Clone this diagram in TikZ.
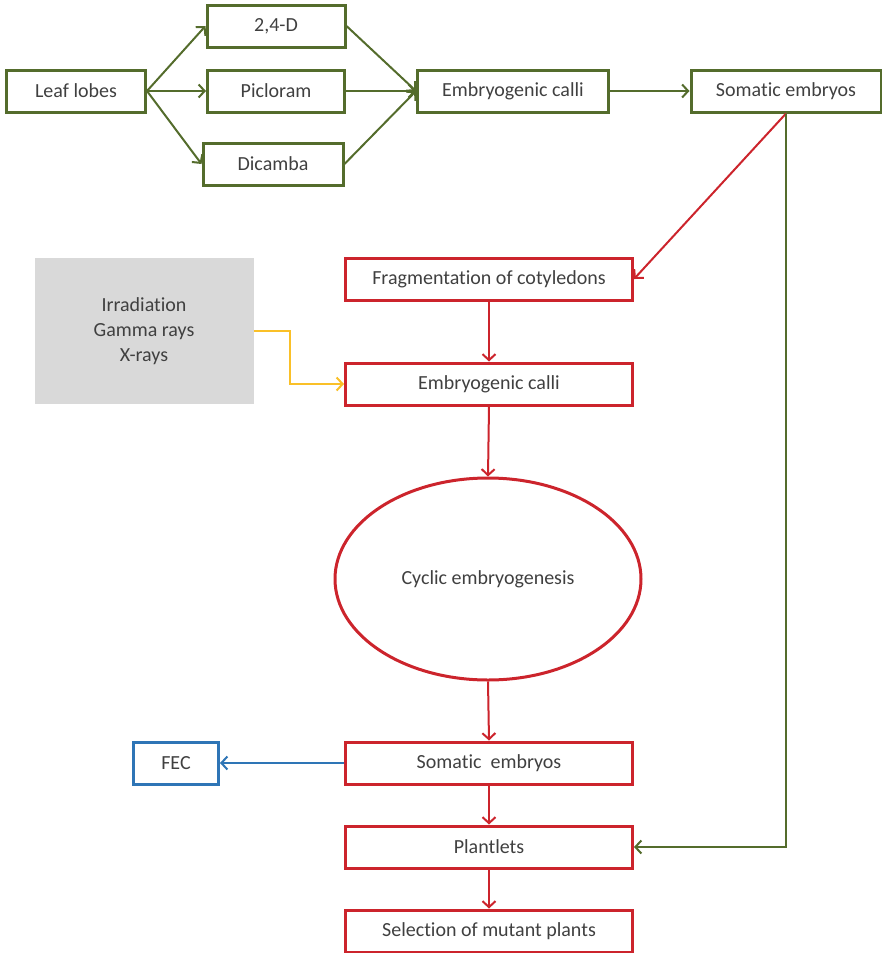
\documentclass[tikz,border=0pt]{standalone}
\usepackage{fontspec}
\setmainfont[Ligatures=NoCommon]{Carlito}
\usepackage{tikz}
\usetikzlibrary{arrows.meta, positioning, shapes.geometric}

\definecolor{olivegreen}{RGB}{84,108,44}
\definecolor{boxred}{RGB}{204,36,44}
\definecolor{boxblue}{RGB}{46,117,182}
\definecolor{raygold}{RGB}{250,192,40}
\definecolor{raygray}{RGB}{217,217,217}
\definecolor{textgray}{RGB}{64,64,64}

\begin{document}
\begin{tikzpicture}[x=1pt, y=-1pt,
  font=\fontsize{20}{25}\selectfont, text=textgray,
  gbox/.style={draw=olivegreen, rectangle, line width=3pt, minimum height=42pt, align=center},
  rbox/.style={draw=boxred, rectangle, line width=3pt, minimum height=42pt, minimum width=287pt, align=center},
  garrow/.style={-{Straight Barb[length=6pt, width=13pt]}, olivegreen, line width=2pt},
  rarrow/.style={-{Straight Barb[length=6pt, width=13pt]}, boxred, line width=2pt},
  barrow/.style={-{Straight Barb[length=6pt, width=13pt]}, boxblue, line width=2pt},
  yarrow/.style={-{Straight Barb[length=6pt, width=13pt]}, raygold, line width=2pt}
]
\useasboundingbox (0,0) rectangle (881,953);

% Top row (green)
\node[gbox, minimum width=139pt] (leaf) at (76,91) {Leaf lobes};
\node[gbox, minimum width=138pt] (dform) at (276,26) {2,4-D};
\node[gbox, minimum width=137pt] (piclo) at (276,91) {Picloram};
\node[gbox, minimum width=140pt] (dicam) at (273,164) {Dicamba};
\node[gbox, minimum width=191pt] (calli) at (513,91) {Embryogenic calli};
\node[gbox, minimum width=190pt] (soma) at (786,91) {Somatic embryos};

\draw[garrow] (leaf.east) -- (dform.west);
\draw[garrow] (leaf.east) -- (piclo.west);
\draw[garrow] (leaf.east) -- (dicam.west);
\draw[garrow] (dform.east) -- (calli.west);
\draw[garrow] (piclo.east) -- (calli.west);
\draw[garrow] (dicam.east) -- (calli.west);
\draw[garrow] (calli.east) -- (soma.west);

% Irradiation block
\node[rectangle, fill=raygray, minimum width=219pt, minimum height=146pt, align=center] (irrad) at (144,331) {Irradiation\\Gamma rays\\X-rays};

% Middle column (red)
\node[rbox] (frag) at (489,279) {Fragmentation of cotyledons};
\node[rbox] (ecalli) at (489,384) {Embryogenic calli};
\node[draw=boxred, ellipse, line width=3pt, minimum width=306pt, minimum height=202pt] (cyclic) at (488,579) {Cyclic embryogenesis};
\node[rbox] (sembryo) at (489,763) {Somatic\ \ embryos};
\node[rbox] (plant) at (489,847) {Plantlets};
\node[rbox] (select) at (489,931) {Selection of mutant plants};
\node[draw=boxblue, rectangle, line width=3pt, minimum width=85pt, minimum height=42pt] (fec) at (176,763) {FEC};

\draw[rarrow] (soma.south) -- (frag.east);
\draw[rarrow] (frag.south) -- (ecalli.north);
\draw[rarrow] (ecalli.south) -- (cyclic.north);
\draw[rarrow] (cyclic.south) -- (sembryo.north);
\draw[rarrow] (sembryo.south) -- (plant.north);
\draw[rarrow] (plant.south) -- (select.north);
\draw[barrow] (sembryo.west) -- (fec.east);

\coordinate (raybend) at (290,331);
\draw[yarrow] (irrad.east) -- (raybend) |- (ecalli.west);
\draw[garrow] (soma.south) |- (plant.east);

\end{tikzpicture}
\end{document}
